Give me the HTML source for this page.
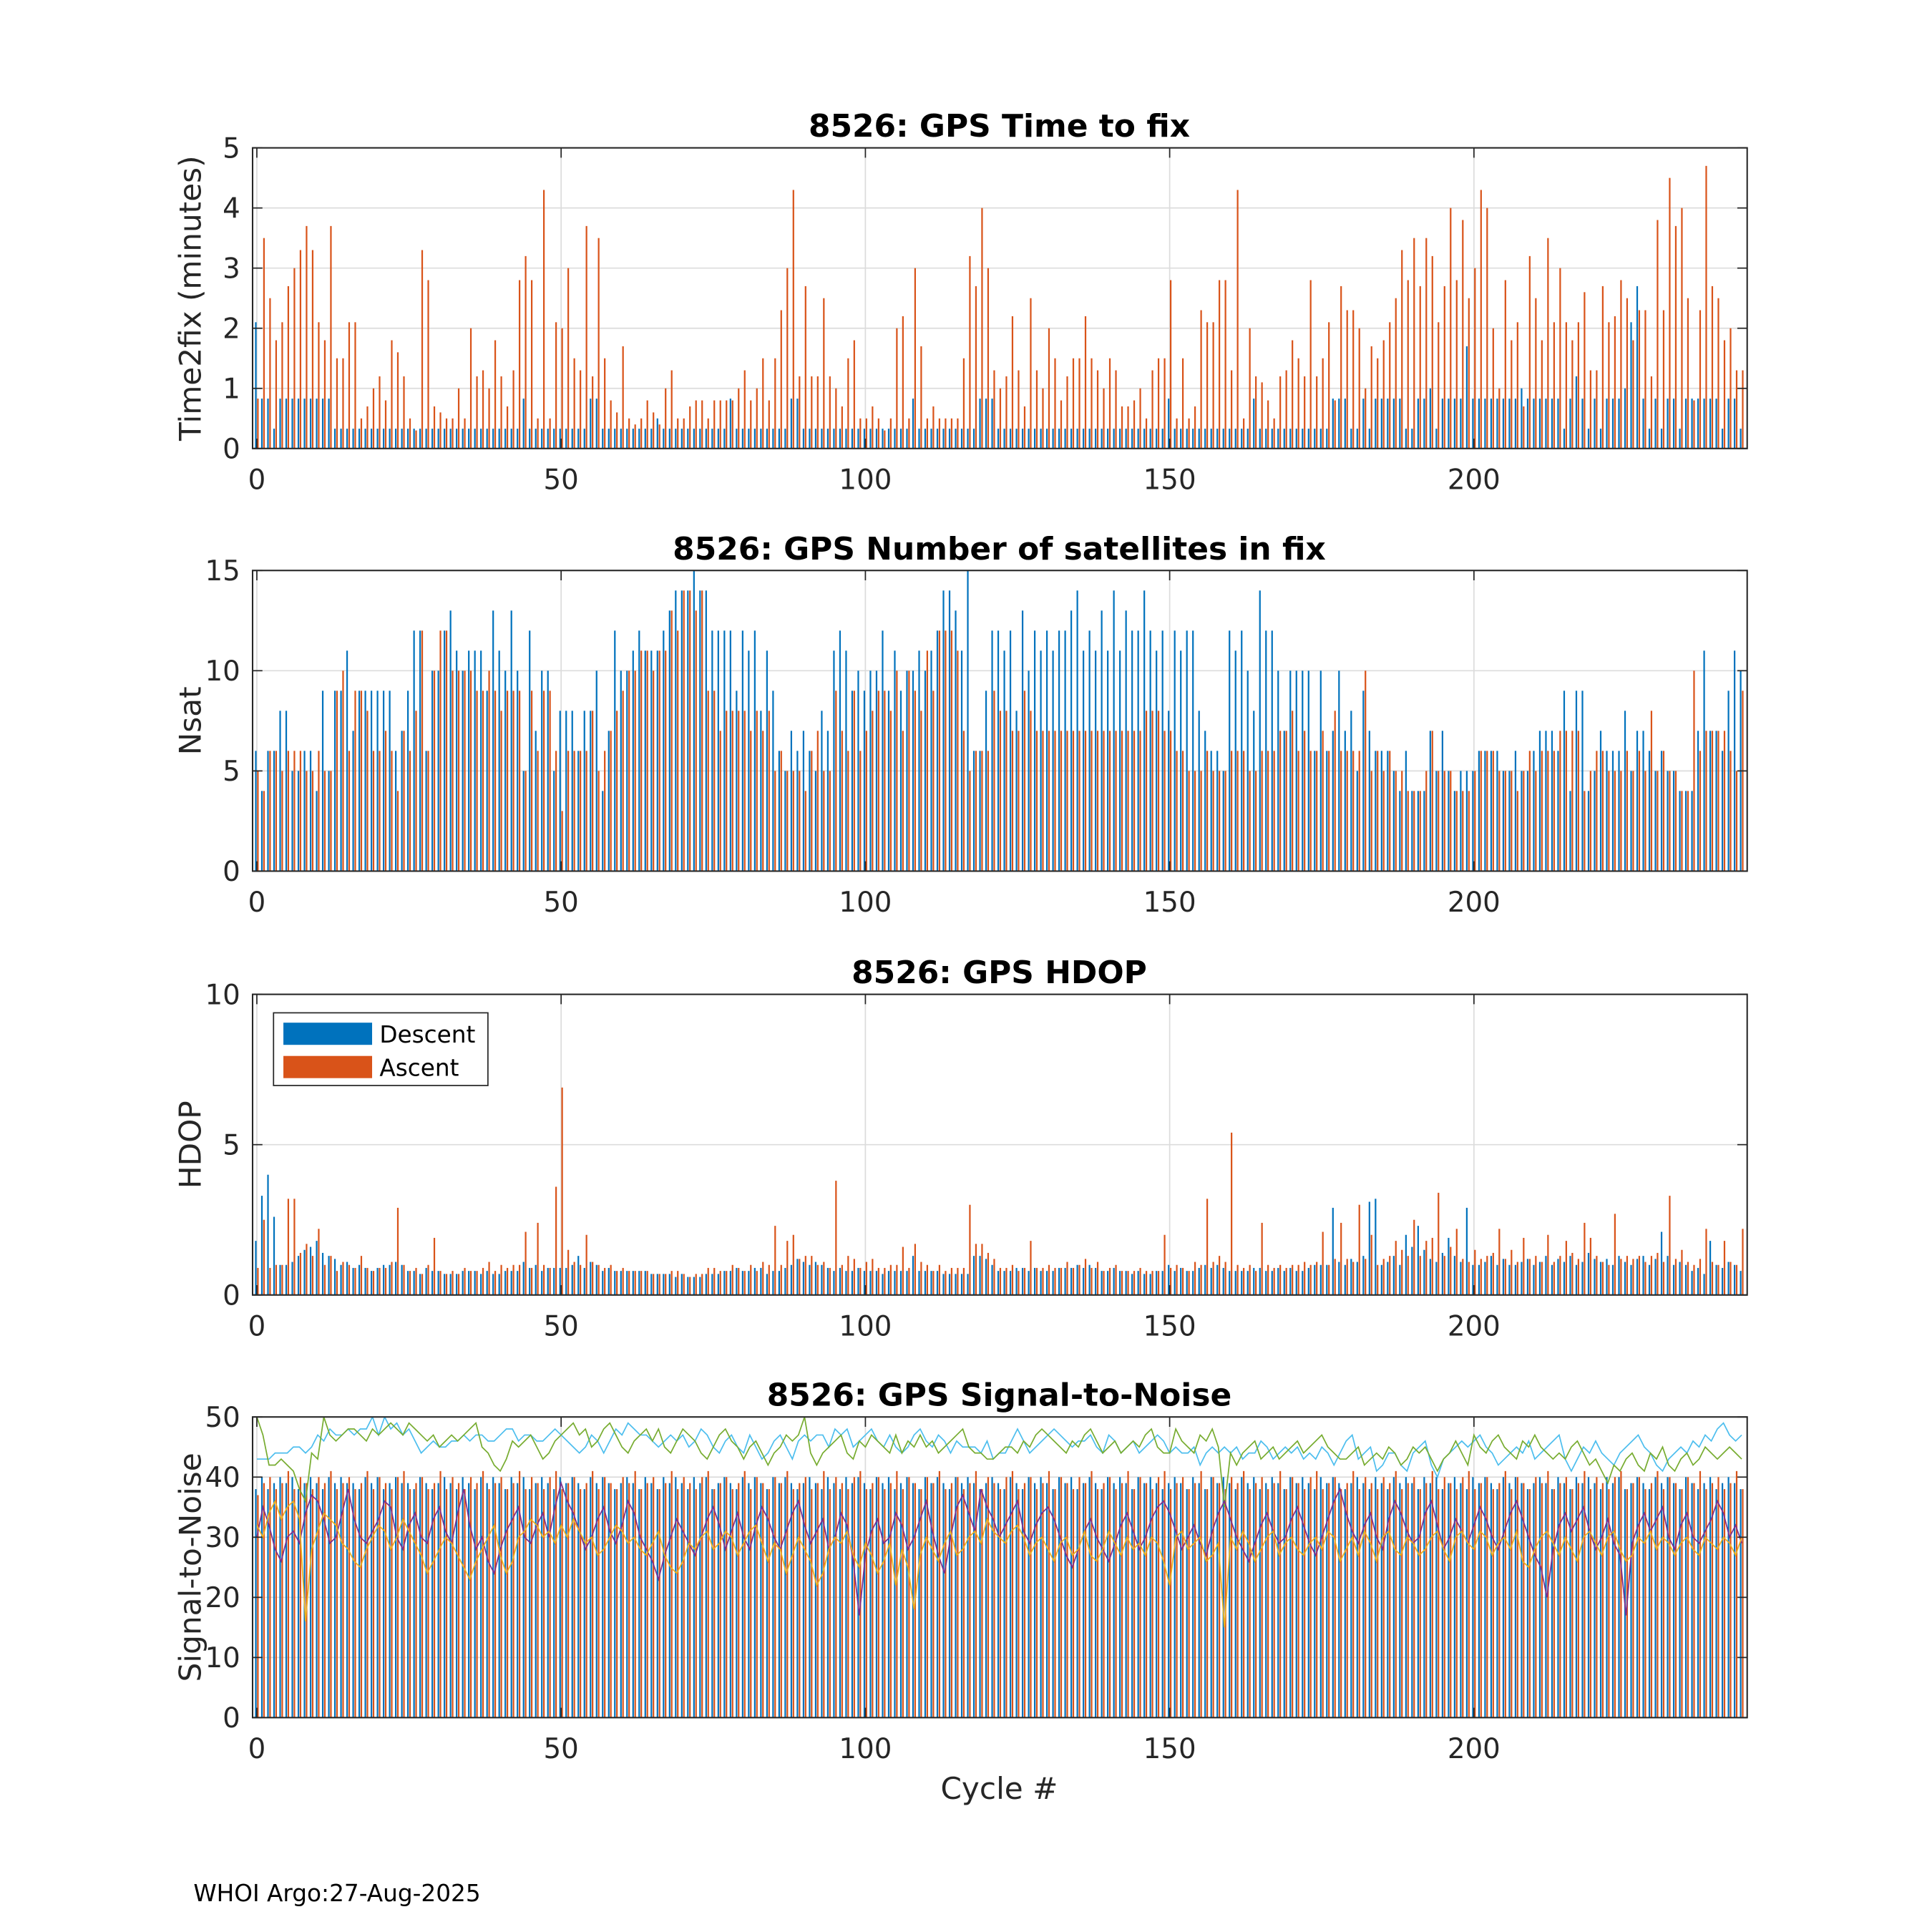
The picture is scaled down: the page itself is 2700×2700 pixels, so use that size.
<!DOCTYPE html>
<html><head><meta charset="utf-8"><style>
html,body{margin:0;padding:0;background:#fff;}
svg{display:block;font-family:"DejaVu Sans","Liberation Sans",sans-serif;}
</style></head><body>
<svg id="fig" width="2700" height="2700" viewBox="0 0 1568 1568" xmlns="http://www.w3.org/2000/svg">
<rect width="1568" height="1568" fill="#fff"/>
<g id="plots"></g>
<text x="157" y="1543" font-size="19" fill="#000">WHOI Argo:27-Aug-2025</text>
</svg>
<script>
const NCYC=245;
const t2fDesc=[2.1,0.83,0.83,0.33,0.83,0.83,0.83,0.83,0.83,0.83,0.83,0.83,0.83,0.33,0.33,0.33,0.33,0.33,0.33,0.33,0.33,0.33,0.33,0.33,0.33,0.33,0.33,0.33,0.33,0.33,0.33,0.33,0.33,0.33,0.33,0.33,0.33,0.33,0.33,0.33,0.33,0.33,0.33,0.33,0.83,0.33,0.33,0.33,0.33,0.33,0.33,0.33,0.33,0.33,0.33,0.83,0.83,0.33,0.33,0.33,0.33,0.33,0.33,0.33,0.33,0.33,0.5,0.33,0.33,0.33,0.33,0.33,0.33,0.33,0.33,0.33,0.33,0.33,0.83,0.33,0.33,0.33,0.33,0.33,0.33,0.33,0.33,0.33,0.83,0.83,0.33,0.33,0.33,0.33,0.33,0.33,0.33,0.33,0.33,0.33,0.33,0.33,0.33,0.33,0.33,0.33,0.33,0.33,0.83,0.33,0.33,0.33,0.33,0.33,0.33,0.33,0.33,0.33,0.33,0.83,0.83,0.83,0.33,0.33,0.33,0.33,0.33,0.33,0.33,0.33,0.33,0.33,0.33,0.33,0.33,0.33,0.33,0.33,0.33,0.33,0.33,0.33,0.33,0.33,0.33,0.33,0.33,0.33,0.33,0.33,0.83,0.33,0.33,0.33,0.33,0.33,0.33,0.33,0.33,0.33,0.33,0.33,0.33,0.33,0.83,0.33,0.33,0.33,0.33,0.33,0.33,0.33,0.33,0.33,0.33,0.33,0.33,0.83,0.83,0.83,0.33,0.33,0.83,0.33,0.83,0.83,0.83,0.83,0.83,0.33,0.33,0.83,0.83,1.0,0.33,0.83,0.83,0.83,0.83,1.7,0.83,0.83,0.83,0.83,0.83,0.83,0.83,0.83,1.0,0.83,0.83,0.83,0.83,0.83,0.83,0.33,0.83,1.2,0.83,0.33,0.83,0.33,0.83,0.83,0.83,1.0,2.1,2.7,0.83,0.33,0.83,0.33,0.83,0.83,0.33,0.83,0.83,0.83,0.83,0.83,0.83,0.33,0.83,0.83,0.33,0.5,1.3];
const t2fAsc=[0.83,3.5,2.5,1.8,2.1,2.7,3.0,3.3,3.7,3.3,2.1,1.8,3.7,1.5,1.5,2.1,2.1,0.5,0.7,1.0,1.2,0.8,1.8,1.6,1.2,0.5,0.3,3.3,2.8,0.7,0.6,0.5,0.5,1.0,0.5,2.0,1.2,1.3,1.0,1.8,1.2,0.7,1.3,2.8,3.2,2.8,0.5,4.3,0.5,2.1,2.0,3.0,1.5,1.3,3.7,1.2,3.5,1.5,0.8,0.6,1.7,0.5,0.4,0.5,0.8,0.6,0.4,1.0,1.3,0.5,0.5,0.7,0.8,0.8,0.5,0.8,0.8,0.8,0.8,1.0,1.3,0.8,1.0,1.5,0.8,1.5,2.3,3.0,4.3,1.2,2.7,1.2,1.2,2.5,1.2,1.0,0.7,1.5,1.8,0.5,0.5,0.7,0.5,0.3,0.5,2.0,2.2,0.5,3.0,1.7,0.5,0.7,0.5,0.5,0.5,0.5,1.5,3.2,2.7,4.0,3.0,1.3,1.0,1.2,2.2,1.3,0.7,2.5,1.3,1.0,2.0,1.5,0.8,1.2,1.5,1.5,2.2,1.5,1.3,1.0,1.5,1.3,0.7,0.7,0.8,1.0,0.5,1.3,1.5,1.5,2.8,0.5,1.5,0.5,0.7,2.3,2.1,2.1,2.8,2.8,1.3,4.3,0.5,2.0,1.2,1.1,0.8,0.5,1.2,1.3,1.8,1.5,1.2,2.8,1.2,1.5,2.1,0.8,2.7,2.3,2.3,2.0,1.0,1.7,1.5,1.8,2.1,2.5,3.3,2.8,3.5,2.7,3.5,3.2,2.1,2.7,4.0,2.8,3.8,2.5,3.0,4.3,4.0,2.0,1.0,2.8,1.8,2.1,0.7,3.2,2.5,1.8,3.5,2.1,3.0,2.1,1.8,2.1,2.6,1.3,1.3,2.7,2.1,2.2,2.8,2.5,1.8,2.3,2.3,1.2,3.8,2.3,4.5,3.7,4.0,2.5,0.8,2.3,4.7,2.7,2.5,1.8,2.0,1.3,1.3];
const nsatDesc=[6,4,6,6,8,8,5,5,6,6,4,9,5,9,9,11,7,9,9,9,9,9,9,6,7,9,12,12,6,10,10,12,13,11,10,11,11,11,9,13,11,10,13,10,5,12,7,10,10,5,8,8,8,6,8,8,10,4,7,12,10,10,11,12,11,11,11,12,13,14,14,14,15,14,14,12,12,12,12,9,12,11,12,8,11,9,6,5,7,6,7,6,5,8,7,11,12,11,9,10,9,10,10,12,9,11,9,10,10,11,10,11,12,14,14,13,11,15,6,6,9,12,12,11,12,8,13,10,12,11,12,11,12,12,13,14,11,12,11,13,11,14,11,13,12,12,14,12,11,12,8,12,11,12,12,8,7,6,6,5,12,11,12,10,8,14,12,12,10,7,10,10,10,10,6,10,6,7,10,7,8,5,9,7,6,6,6,5,4,6,4,4,4,7,5,7,5,4,5,5,5,6,6,6,6,5,5,6,5,5,6,7,7,7,6,9,4,9,9,4,5,7,6,6,6,8,5,7,7,6,5,6,5,5,4,4,4,7,11,7,7,6,9,11,10];
const nsatAsc=[5,4,6,6,5,6,6,6,5,5,6,5,5,9,10,6,9,9,8,6,6,7,6,4,7,6,8,12,6,10,12,12,10,10,10,10,9,9,10,9,8,9,9,9,5,9,6,9,9,6,3,6,6,6,6,8,5,6,7,8,9,10,10,11,11,10,11,11,13,12,14,14,13,14,9,9,7,8,8,8,8,7,8,7,8,5,6,5,5,5,4,6,7,5,5,9,7,6,9,6,7,8,9,9,8,10,7,10,9,8,11,9,12,12,12,11,7,5,6,6,6,9,8,8,7,7,9,8,7,7,7,7,7,7,7,7,7,7,7,7,7,7,7,7,7,7,8,8,8,7,7,6,6,5,5,5,6,5,5,5,6,6,6,5,5,6,6,6,7,7,8,6,7,6,6,7,6,8,6,6,6,6,10,5,6,5,6,5,5,4,4,4,5,7,5,5,5,4,4,4,5,6,6,6,5,5,5,4,5,6,5,6,6,6,7,7,7,7,4,5,6,6,5,5,5,6,5,6,5,8,5,6,5,5,4,4,10,6,7,7,7,7,6,5,9];
const hdopDesc=[1.8,3.3,4.0,2.6,1.0,1.0,1.1,1.3,1.5,1.6,1.8,1.4,1.3,1.2,1.0,1.1,0.9,1.0,0.9,0.8,0.9,1.0,1.0,1.1,1.0,0.8,0.8,0.7,0.9,0.8,0.8,0.7,0.7,0.7,0.8,0.8,0.8,0.7,0.8,0.7,0.7,0.8,0.8,0.8,1.1,0.9,1.0,0.8,0.9,0.9,0.9,0.9,1.0,1.3,0.9,1.1,1.0,0.8,0.9,0.8,0.8,0.8,0.8,0.8,0.8,0.7,0.7,0.7,0.7,0.6,0.7,0.6,0.6,0.6,0.7,0.7,0.7,0.8,0.8,0.9,0.8,0.8,0.9,0.9,0.7,0.8,0.8,0.9,1.0,1.2,1.1,1.0,1.1,1.0,0.9,0.8,0.9,0.8,0.8,0.9,0.8,0.8,0.8,0.7,0.8,0.8,0.8,0.8,1.3,0.8,0.8,0.8,0.8,0.7,0.7,0.7,0.7,0.7,1.3,1.3,1.2,1.0,0.8,0.8,0.8,0.9,0.9,0.8,0.9,0.8,0.8,0.8,0.9,0.9,0.9,1.0,0.9,1.0,0.9,0.8,0.8,0.9,0.8,0.8,0.7,0.8,0.7,0.7,0.8,0.8,1.0,0.8,0.9,0.8,0.8,0.9,1.0,0.9,1.0,0.9,0.8,0.8,0.8,0.8,0.9,0.9,0.8,0.8,0.9,0.8,0.9,0.8,0.8,0.9,1.0,1.0,1.0,2.9,1.1,1.0,1.2,1.1,1.3,3.1,3.2,1.0,1.1,1.3,1.0,2.0,1.6,2.3,1.5,1.2,1.1,1.4,1.9,1.3,1.1,2.9,1.0,1.0,1.1,1.3,1.0,1.2,1.0,1.0,1.1,1.2,1.0,1.1,1.3,1.0,1.2,1.1,1.3,1.0,1.1,1.4,1.2,1.1,1.2,1.0,1.3,1.1,1.0,1.2,1.3,1.0,1.2,2.1,1.3,1.0,1.1,1.0,0.8,0.9,0.7,1.8,1.0,0.9,1.1,1.0,0.8];
const hdopAsc=[0.9,2.5,0.9,1.0,1.0,3.2,3.2,1.4,1.7,1.3,2.2,1.0,1.3,0.8,1.1,1.0,0.9,1.3,0.9,0.8,0.9,0.9,1.1,2.9,1.0,0.8,0.9,0.7,1.0,1.9,0.8,0.7,0.8,0.7,0.9,0.8,0.8,0.9,1.1,0.8,1.0,0.9,1.0,1.0,2.1,0.9,2.4,1.0,0.9,3.6,6.9,1.5,1.1,1.0,2.0,1.1,1.0,0.9,1.0,0.8,0.9,0.8,0.8,0.8,0.8,0.7,0.7,0.7,0.8,0.8,0.7,0.6,0.7,0.7,0.9,0.9,0.8,0.8,1.0,0.9,0.8,1.0,0.8,1.1,1.0,2.3,1.0,1.8,2.0,1.2,1.3,1.3,1.0,1.1,0.9,3.8,1.0,1.3,1.2,0.9,1.1,1.2,0.9,0.9,1.0,1.0,1.6,0.9,1.7,1.1,1.0,0.8,1.0,0.8,0.9,0.9,0.9,3.0,1.7,1.7,1.4,1.2,0.9,0.9,1.0,0.8,0.9,1.8,0.9,0.9,1.0,0.9,0.9,1.1,0.9,1.0,1.2,0.9,1.1,0.8,0.9,1.0,0.8,0.8,0.8,0.9,0.8,0.8,0.8,2.0,0.9,1.0,0.9,0.8,1.1,1.0,3.2,1.1,1.3,1.1,5.4,1.0,0.9,1.0,0.8,2.4,1.0,0.9,1.0,0.9,1.0,1.0,1.1,1.0,1.1,2.1,1.0,1.2,2.4,1.2,1.1,3.0,1.2,2.0,1.0,1.2,1.3,1.8,1.5,1.3,2.5,1.3,1.8,1.9,3.4,1.3,1.6,2.2,1.2,1.1,1.5,1.2,1.3,1.4,2.2,1.2,1.5,1.1,1.9,1.2,1.3,1.1,2.0,1.1,1.3,1.8,1.4,1.2,2.4,1.9,1.3,1.1,1.0,2.7,1.2,1.3,1.2,1.3,1.1,1.3,1.4,1.1,3.3,1.2,1.5,1.1,1.0,1.2,2.2,1.1,1.0,1.8,1.1,1.0,2.2,1.1,1.0,1.1,1.0,1.0];
const snrDesc=[38,40,38,39,40,39,40,38,39,40,39,38,40,39,40,39,39,38,40,39,40,38,39,40,39,39,38,40,39,38,39,40,39,38,40,39,38,40,39,40,39,38,40,39,40,38,39,40,39,38,40,39,40,39,38,40,39,40,39,38,39,40,39,38,40,39,38,40,39,40,39,38,40,39,40,38,39,40,39,38,40,39,40,39,38,40,39,40,39,38,39,40,39,38,40,39,38,40,39,40,39,38,40,39,40,38,39,40,39,38,40,39,40,39,38,40,39,40,39,38,39,40,39,38,40,39,38,40,39,40,39,38,40,39,40,38,39,40,39,38,40,39,40,39,38,40,39,40,39,38,39,40,39,38,40,39,38,40,39,40,39,38,40,39,40,38,39,40,39,38,40,39,40,39,38,40,39,40,39,38,39,40,39,38,40,39,38,40,39,40,39,38,40,39,40,38,39,40,39,38,40,39,40,39,38,40,39,40,39,38,39,40,39,38,40,39,38,40,39,40,39,38,40,39,40,38,39,40,39,38,40,39,40,39,38,40,39,38,39,40,38,39,40,39,38,40,39,38,39,40,38,39];
const snrAsc=[37,39,40,38,39,41,38,40,39,38,40,39,41,38,39,40,38,39,41,38,40,39,38,40,41,38,39,40,38,39,41,38,40,39,38,40,39,41,38,39,40,38,39,41,38,40,39,38,40,41,38,39,40,38,39,41,38,40,39,38,40,39,41,38,39,40,38,39,41,38,40,39,38,40,41,38,39,40,38,39,41,38,40,39,38,40,39,41,38,39,40,38,39,41,38,40,39,38,40,41,38,39,40,38,39,41,38,40,39,38,40,39,41,38,39,40,38,39,41,38,40,39,38,40,41,38,39,40,38,39,41,38,40,39,38,40,39,41,38,39,40,38,39,41,38,40,39,38,40,41,38,39,40,38,39,41,38,40,39,38,40,39,41,38,39,40,38,39,41,38,40,39,38,40,41,38,39,40,38,39,41,38,40,39,38,40,39,41,38,39,40,38,39,41,38,40,39,38,40,41,38,39,40,38,39,41,38,40,39,38,40,39,41,38,39,40,38,39,41,38,40,39,38,40,41,38,39,40,38,39,41,38,40,39,38,40,39,41,38,39,40,38,39,41,38,40,39];
const snrCyan=[43,43,43,44,44,44,45,45,44,45,47,46,48,47,47,48,47,48,48,50,47,50,48,49,47,48,46,44,45,46,45,45,46,46,47,46,47,47,46,46,47,48,48,46,47,47,46,46,47,48,47,46,45,44,45,47,46,44,46,48,47,49,48,47,47,46,45,46,47,46,47,45,46,48,47,45,44,46,47,45,44,47,45,43,44,46,47,45,43,46,47,46,47,47,45,48,47,48,45,46,47,48,46,45,47,45,44,45,47,48,46,45,47,46,44,46,45,45,45,44,46,43,44,44,46,48,46,44,45,46,47,48,47,46,45,46,46,47,45,44,47,46,44,45,46,44,45,46,47,46,44,45,44,44,45,42,44,45,44,45,44,45,43,44,44,46,45,43,44,45,44,45,43,44,43,45,44,42,44,46,47,43,44,45,41,42,44,44,42,41,44,45,46,42,40,43,44,45,46,45,46,47,45,44,42,43,44,45,44,46,43,44,45,46,47,43,41,43,45,44,46,44,43,42,44,45,46,47,45,44,42,41,43,44,45,44,46,45,47,46,48,49,47,46,47,48,49];
const snrGreen=[50,47,42,42,43,42,41,38,36,44,43,50,47,46,47,48,48,47,46,48,47,48,49,48,47,49,48,47,46,47,45,46,47,46,47,48,49,45,44,42,41,43,46,45,46,47,45,43,44,46,47,48,49,47,48,45,46,48,49,47,45,44,46,47,48,46,48,45,44,46,48,47,46,44,43,45,47,48,46,45,43,45,46,44,42,44,45,47,46,47,50,44,42,44,45,46,47,44,43,46,45,47,46,45,44,47,44,46,45,47,45,46,44,45,46,47,48,45,44,44,43,43,44,45,45,44,46,45,47,48,47,46,45,44,46,45,47,48,46,44,45,46,44,45,46,45,47,48,45,44,44,48,46,45,44,47,46,48,45,35,44,42,44,45,46,43,44,45,43,44,45,46,44,45,46,47,45,44,43,43,44,45,42,43,44,43,45,44,42,43,45,44,45,43,41,43,44,46,44,42,47,45,44,46,47,45,44,43,46,45,47,45,44,43,44,43,45,46,44,42,43,41,39,42,41,43,44,42,41,44,43,45,42,41,43,44,42,43,45,44,43,44,45,44,43,44,45,44,43,44,43,44,45];
const snrPurple=[30,35,32,28,26,30,31,29,34,37,36,33,29,30,34,38,33,30,29,31,33,36,35,30,28,32,34,30,29,33,35,31,29,34,38,32,28,30,26,24,28,31,33,35,30,29,32,34,30,35,39,36,34,31,28,30,33,35,31,29,32,36,34,30,28,26,23,27,30,33,31,29,27,30,33,35,32,28,31,34,30,28,32,35,33,30,28,31,34,36,32,29,31,33,28,30,34,32,26,17,27,31,33,29,30,34,32,28,30,33,36,31,27,24,30,35,37,34,31,38,35,33,30,32,34,36,31,29,32,34,35,33,30,27,25,28,31,33,30,28,26,29,32,34,31,28,30,33,35,36,34,31,28,30,32,29,27,31,34,36,33,30,28,26,29,32,34,31,29,30,33,35,32,29,27,30,33,36,38,34,31,29,32,34,30,28,33,36,34,31,29,30,34,36,32,28,30,33,31,29,32,35,33,30,28,31,34,36,33,30,27,25,20,28,32,34,31,33,35,31,28,30,33,29,27,17,29,32,34,31,33,35,30,28,32,34,30,29,31,33,36,34,30,32,29,31,30,33,28,34,29,31,30];
const snrYellow=[32,30,34,36,33,35,36,33,16,28,31,34,33,32,29,28,26,25,28,30,32,31,28,30,33,31,29,27,24,26,28,30,29,27,25,23,26,28,30,32,27,24,26,30,31,33,32,30,31,29,32,30,33,31,29,30,27,28,30,32,31,29,30,28,27,29,31,27,25,24,26,29,28,30,31,28,29,31,30,27,29,31,32,29,26,29,28,24,27,30,28,26,22,24,28,30,29,31,27,25,29,27,24,26,29,22,28,25,18,27,30,28,26,29,31,27,28,30,31,29,33,31,30,29,31,32,30,27,29,30,28,26,29,30,27,28,31,27,26,28,31,29,27,30,28,29,27,30,29,26,22,30,31,28,29,30,26,27,29,15,30,28,31,29,26,28,30,31,27,29,30,28,27,29,30,28,31,30,26,28,30,27,31,29,26,30,31,28,27,30,29,27,28,30,31,28,26,30,31,29,28,31,30,27,29,30,28,31,26,25,28,30,31,29,27,30,28,26,30,31,29,27,30,31,28,26,27,30,29,31,28,30,29,27,29,30,28,27,30,29,28,30,29,27,30,28,31,29,30];

const COLORS={blue:'#0072BD',orange:'#D95319',cyan:'#4DBEEE',green:'#77AC30',purple:'#7E2F8E',yellow:'#EDB120'};
const NS='http://www.w3.org/2000/svg';
const L=205,R=1418,XMIN=-0.7,XMAX=244.9;
const xs=v=>L+(v-XMIN)/(XMAX-XMIN)*(R-L);
function mk(tag,attrs,parent){const e=document.createElementNS(NS,tag);for(const k in attrs)e.setAttribute(k,attrs[k]);parent.appendChild(e);return e;}
const root=document.getElementById('plots');
const xticks=[0,50,100,150,200];

function panel(cfg){
  const g=mk('g',{},root);
  
  
  const T=cfg.top,B=cfg.top+244;
  const ys=v=>B-(v-0)/(cfg.ymax)*(B-T);
  xticks.forEach(t=>{const l=mk('line',{x1:xs(t),x2:xs(t),y1:T,y2:B,stroke:'#dcdcdc','stroke-width':1},g);});
  cfg.yticks.forEach(t=>{const l=mk('line',{x1:L,x2:R,y1:ys(t),y2:ys(t),stroke:'#dcdcdc','stroke-width':1},g);});
  const clip='clip'+cfg.top;
  const cp=mk('clipPath',{id:clip},g);mk('rect',{x:L,y:T,width:R-L,height:B-T},cp);
  const bars=mk('g',{'clip-path':'url(#'+clip+')'},g);
  const bw=(xs(0.26)-xs(0));
  cfg.desc.slice(0,NCYC).forEach((v,i)=>{const y=ys(v);const r=mk('rect',{x:xs(i-0.17)-bw/2,y:y,width:bw,height:B-y,fill:COLORS.blue},bars);});
  cfg.asc.slice(0,NCYC).forEach((v,i)=>{const y=ys(v);const r=mk('rect',{x:xs(i+0.17)-bw/2,y:y,width:bw,height:B-y,fill:COLORS.orange},bars);});
  (cfg.lines||[]).forEach(ln=>{const p=mk('polyline',{points:ln.data.slice(0,NCYC).map((v,i)=>xs(i).toFixed(2)+','+ys(v).toFixed(2)).join(' '),fill:'none',stroke:ln.color,'stroke-width':1},bars);});
  const bx=mk('rect',{x:L,y:T,width:R-L,height:B-T,fill:'none',stroke:'#262626','stroke-width':1.2},g);
  
  xticks.forEach(t=>{
    mk('line',{x1:xs(t),x2:xs(t),y1:B,y2:B-8,stroke:'#262626','stroke-width':1},g);
    mk('line',{x1:xs(t),x2:xs(t),y1:T,y2:T+8,stroke:'#262626','stroke-width':1},g);
    const tx=mk('text',{x:xs(t),y:B+33,'font-size':22.5,'text-anchor':'middle',fill:'#262626'},g);tx.textContent=t;
    
  });
  cfg.yticks.forEach(t=>{
    mk('line',{x1:L,x2:L+8,y1:ys(t),y2:ys(t),stroke:'#262626','stroke-width':1},g);
    mk('line',{x1:R,x2:R-8,y1:ys(t),y2:ys(t),stroke:'#262626','stroke-width':1},g);
    const tx=mk('text',{x:L-10,y:ys(t)+8,'font-size':22.5,'text-anchor':'end',fill:'#262626'},g);tx.textContent=t;
    
  });
  const ti=mk('text',{x:811,y:T-9,'font-size':25.5,'font-weight':'bold','text-anchor':'middle',fill:'#000'},g);ti.textContent=cfg.title;
  
  const yl=mk('text',{x:0,y:0,'font-size':24.5,'text-anchor':'middle',fill:'#262626',transform:'translate(163,'+(T+122)+') rotate(-90)'},g);yl.textContent=cfg.ylabel;
  
  return {g,T,B};
}
panel({name:'time-to-fix-panel',top:120,ymax:5,yticks:[0,1,2,3,4,5],desc:t2fDesc,asc:t2fAsc,title:'8526: GPS Time to fix',ylabel:'Time2fix (minutes)'});
panel({name:'nsat-panel',top:463,ymax:15,yticks:[0,5,10,15],desc:nsatDesc,asc:nsatAsc,title:'8526: GPS Number of satellites in fix',ylabel:'Nsat'});
const p3=panel({name:'hdop-panel',top:807,ymax:10,yticks:[0,5,10],desc:hdopDesc,asc:hdopAsc,title:'8526: GPS HDOP',ylabel:'HDOP'});
panel({name:'snr-panel',top:1150,ymax:50,yticks:[0,10,20,30,40,50],desc:snrDesc,asc:snrAsc,title:'8526: GPS Signal-to-Noise',ylabel:'Signal-to-Noise',
  lines:[{name:'snr-cyan-line',data:snrCyan,color:COLORS.cyan},{name:'snr-green-line',data:snrGreen,color:COLORS.green},{name:'snr-purple-line',data:snrPurple,color:COLORS.purple},{name:'snr-yellow-line',data:snrYellow,color:COLORS.yellow}]});
const lg=mk('g',{},p3.g);


mk('rect',{x:222,y:822,width:174,height:59,fill:'#fff',stroke:'#262626','stroke-width':1},lg);
const le1=mk('rect',{x:230,y:830,width:72,height:18,fill:COLORS.blue},lg);


const le2=mk('rect',{x:230,y:857,width:72,height:18,fill:COLORS.orange},lg);


const lt1=mk('text',{x:308,y:846,'font-size':19,fill:'#000'},lg);lt1.textContent='Descent';


const lt2=mk('text',{x:308,y:873,'font-size':19,fill:'#000'},lg);lt2.textContent='Ascent';


const xt=mk('text',{x:811,y:1460,'font-size':24.5,'text-anchor':'middle',fill:'#262626'},root);xt.textContent='Cycle #';


</script>
</body></html>
